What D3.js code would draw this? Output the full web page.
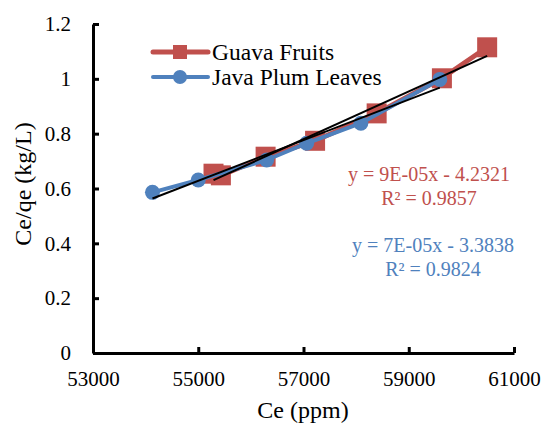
<!DOCTYPE html>
<html>
<head>
<meta charset="utf-8">
<script src="https://cdn.jsdelivr.net/npm/d3@7"></script>
<style>
  body { margin: 0; background: #fff; }
  text { font-family: "Liberation Serif", "Times New Roman", serif; }
</style>
</head>
<body>
<div id="chart"></div>
<script>
// values
const guavaCe = [55290, 55430, 56280, 57220, 58390, 59630, 60490]
const guavaRatio = [0.654, 0.648, 0.716, 0.774, 0.874, 1.002, 1.115]
const plumCe = [54130, 55000, 56300, 57060, 58090, 59590]
const plumRatio = [0.586, 0.631, 0.704, 0.765, 0.838, 0.998]
const xTicks = [53000, 55000, 57000, 59000, 61000]
const yTicks = [0, 0.2, 0.4, 0.6, 0.8, 1, 1.2]
const seriesNames = ["Guava Fruits", "Java Plum Leaves"]
const equations = [
    ["y = 9E-05x - 4.2321", "R\u00b2 = 0.9857"],
    ["y = 7E-05x - 3.3838", "R\u00b2 = 0.9824"]
]

const width = 544, height = 423
const red = "#C0504D", blue = "#4F81BD"

const svg = d3.select("#chart")
    .append("svg")
    .attr("width", width)
    .attr("height", height)

let x = d3.scaleLinear().domain([53000, 61000]).range([93, 514])
let y = d3.scaleLinear().domain([0, 1.2]).range([353, 24])

// least squares fit, drawn over the data range like excel does
function fit(xs, ys) {
    const mx = d3.mean(xs), my = d3.mean(ys)
    const sxy = d3.sum(xs, (v, i) => (v - mx) * (ys[i] - my))
    const sxx = d3.sum(xs, v => (v - mx) * (v - mx))
    const b = sxy / sxx
    const a = my - b * mx
    const [lo, hi] = d3.extent(xs)
    return [[lo, a + b * lo], [hi, a + b * hi]]
}

const series = [
    { name: seriesNames[0], xs: guavaCe, ys: guavaRatio, colour: red, shape: "square" },
    { name: seriesNames[1], xs: plumCe, ys: plumRatio, colour: blue, shape: "circle" }
]

let line = d3.line().x(d => x(d[0])).y(d => y(d[1]))

series.forEach(s => {
    const pts = s.xs.map((v, i) => [v, s.ys[i]])
    const g = svg.append("g")
    g.append("path")
        .attr("d", line(pts))
        .attr("fill", "none")
        .attr("stroke", s.colour)
        .attr("stroke-width", s.shape == "square" ? 5 : 4)
        .attr("stroke-linejoin", "round")
    if (s.shape == "square") {
        g.selectAll("rect").data(pts).join("rect")
            .attr("x", d => x(d[0]) - 10)
            .attr("y", d => y(d[1]) - 10)
            .attr("width", 20)
            .attr("height", 20)
            .attr("fill", s.colour)
    } else {
        g.selectAll("circle").data(pts).join("circle")
            .attr("cx", d => x(d[0]))
            .attr("cy", d => y(d[1]))
            .attr("r", 7.5)
            .attr("fill", s.colour)
    }
})

// trendlines on top
series.forEach(s => {
    svg.append("path")
        .attr("d", line(fit(s.xs, s.ys)))
        .attr("stroke", "black")
        .attr("stroke-width", 2)
        .attr("fill", "none")
})

// axes
const xAxis = svg.append("g")
    .attr("transform", "translate(0," + y(0) + ")")
    .call(d3.axisBottom(x).tickValues(xTicks).tickFormat(d3.format("d")).tickSizeInner(-6).tickSizeOuter(0).tickPadding(18))
const yAxis = svg.append("g")
    .attr("transform", "translate(" + x(53000) + ",0)")
    .call(d3.axisLeft(y).tickValues(yTicks).tickFormat(d => d).tickSizeInner(-6).tickSizeOuter(0).tickPadding(22))

;[xAxis, yAxis].forEach(a => {
    a.select(".domain").attr("stroke", "black").attr("stroke-width", 3)
    a.selectAll(".tick line").attr("stroke", "black").attr("stroke-width", 3)
    a.selectAll(".tick text")
        .attr("fill", "black")
        .style("font-family", "'Liberation Serif', serif")
        .style("font-size", "21px")
})

svg.append("text")
    .attr("x", 303)
    .attr("y", 418)
    .attr("text-anchor", "middle")
    .style("font-size", "24px")
    .text("Ce (ppm)")

svg.append("text")
    .attr("transform", "translate(31,184)rotate(-90)")
    .attr("text-anchor", "middle")
    .style("font-size", "24px")
    .text("Ce/qe (kg/L)")

// legend
const legend = svg.append("g")
series.forEach((s, i) => {
    const ly = 52 + i * 25
    legend.append("line")
        .attr("x1", 153).attr("x2", 208)
        .attr("y1", ly).attr("y2", ly)
        .attr("stroke", s.colour)
        .attr("stroke-width", s.shape == "square" ? 5 : 4)
        .attr("stroke-linecap", "round")
    if (s.shape == "square") {
        legend.append("rect")
            .attr("x", 173).attr("y", ly - 7)
            .attr("width", 14).attr("height", 14)
            .attr("fill", s.colour)
    } else {
        legend.append("circle")
            .attr("cx", 180).attr("cy", ly)
            .attr("r", 7)
            .attr("fill", s.colour)
    }
    legend.append("text")
        .attr("x", 212)
        .attr("y", ly + 8)
        .style("font-size", "23.5px")
        .text(s.name)
})

// trendline equations
const eqPos = [[429, 181], [433, 252]]
equations.forEach((eq, i) => {
    eq.forEach((t, j) => {
        svg.append("text")
            .attr("x", eqPos[i][0])
            .attr("y", eqPos[i][1] + j * 24)
            .attr("text-anchor", "middle")
            .attr("fill", series[i].colour)
            .style("font-size", "20px")
            .text(t)
    })
})
</script>
</body>
</html>
